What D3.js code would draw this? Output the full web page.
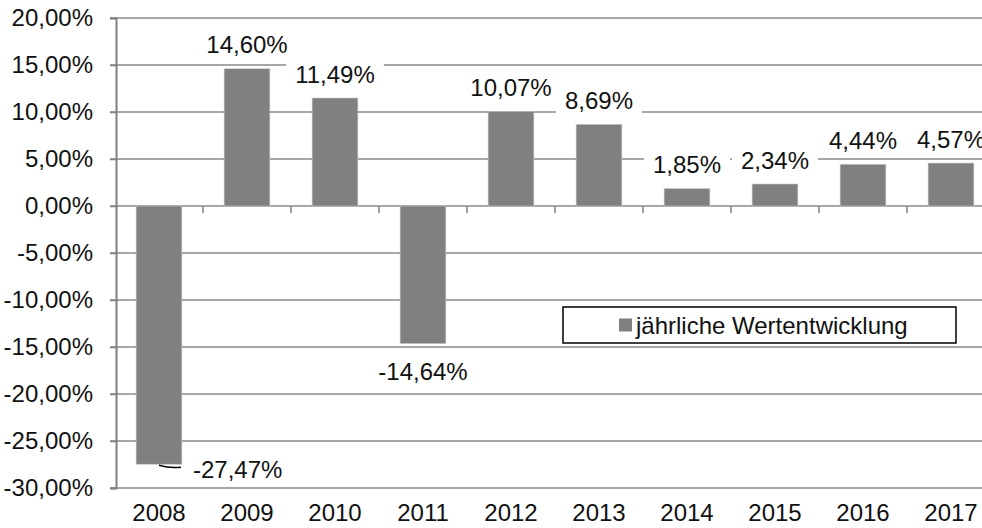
<!DOCTYPE html>
<html>
<head>
    <script src="https://d3js.org/d3.v7.min.js"></script>
    <style>
        body { margin: 0; background: #fff; }
        text { font-family: "Liberation Sans", Arial, sans-serif; }
    </style>
</head>
<body>
    <div id="chart"></div>
    <script>
        // data
        const years = ["2008", "2009", "2010", "2011", "2012", "2013", "2014", "2015", "2016", "2017"];
        const values = [-27.47, 14.60, 11.49, -14.64, 10.07, 8.69, 1.85, 2.34, 4.44, 4.57];
        const yTicks = [-30, -25, -20, -15, -10, -5, 0, 5, 10, 15, 20];
        const seriesName = "jährliche Wertentwicklung";
        const title = "Jährliche Wertentwicklung in (%)";

        const W = 982, H = 528;
        const FS = "24px";
        const fmt = v => v.toFixed(2).replace(".", ",") + "%";

        const svg = d3.select("#chart").append("svg")
            .attr("width", W).attr("height", H);

        const x = d3.scaleBand()
            .domain(years)
            .range([115, 995])
            .paddingInner(0.48)
            .paddingOuter(0.24);

        const y = d3.scaleLinear().domain([-30, 20]).range([488, 18]);

        // title (cut off at the top, as in the original)
        svg.append("text")
            .attr("x", 742).attr("y", -5)
            .attr("text-anchor", "end")
            .style("font-weight", "bold")
            .style("font-size", "24px")
            .text(title);

        // gridlines
        svg.append("g").selectAll("line")
            .data(yTicks)
            .join("line")
            .attr("x1", 110).attr("x2", 995)
            .attr("y1", d => y(d)).attr("y2", d => y(d))
            .attr("stroke", "#8a8a8a")
            .attr("stroke-width", 1.5);

        // y axis
        const yAxis = svg.append("g")
            .attr("transform", "translate(116,0)")
            .call(d3.axisLeft(y).tickValues(yTicks).tickFormat(fmt).tickSize(6).tickPadding(17));
        yAxis.select(".domain").attr("stroke", "#808080").attr("stroke-width", 2);
        yAxis.selectAll(".tick line").attr("stroke", "#808080").attr("stroke-width", 1.5);
        yAxis.selectAll("text")
            .style("font-size", FS)
            .style("font-family", "'Liberation Sans', Arial, sans-serif")
            .attr("fill", "#111");

        // category ticks along the zero line
        const bounds = years.map(d => x(d) - x.step() * x.paddingOuter());
        bounds.push(bounds[bounds.length - 1] + x.step());
        svg.append("g").selectAll("line")
            .data(bounds.slice(1))
            .join("line")
            .attr("x1", d => d).attr("x2", d => d)
            .attr("y1", y(0)).attr("y2", y(0) + 7)
            .attr("stroke", "#808080")
            .attr("stroke-width", 1.5);

        // bars
        svg.append("g").selectAll("rect")
            .data(values)
            .join("rect")
            .attr("x", (d, i) => x(years[i]))
            .attr("width", x.bandwidth())
            .attr("y", d => y(Math.max(0, d)))
            .attr("height", d => Math.abs(y(d) - y(0)))
            .attr("fill", "#808080")
            .attr("stroke", "#c8c8c8")
            .attr("stroke-width", 0.6);

        // x labels
        svg.append("g").selectAll("text")
            .data(years)
            .join("text")
            .attr("x", d => x(d) + x.bandwidth() / 2)
            .attr("y", 521)
            .attr("text-anchor", "middle")
            .style("font-size", FS)
            .attr("fill", "#111")
            .text(d => d);

        // data labels with white boxes
        const labels = svg.append("g");
        values.forEach((v, i) => {
            const cx = x(years[i]) + x.bandwidth() / 2;
            let lx = cx, ly, anchor = "middle";
            if (v >= 0) ly = y(v) - 24;
            else if (i === 0) { lx = 193; ly = y(v) + 5; anchor = "start"; }
            else ly = y(v) + 28;

            const g = labels.append("g");
            const t = g.append("text")
                .attr("x", lx).attr("y", ly)
                .attr("dy", "0.36em")
                .attr("text-anchor", anchor)
                .style("font-size", FS)
                .attr("fill", "#111")
                .text(fmt(v));
            const bb = t.node().getBBox();
            g.insert("rect", "text")
                .attr("x", bb.x - 9).attr("y", bb.y - 1)
                .attr("width", bb.width + 18).attr("height", bb.height + 3)
                .attr("fill", "#fff");

            // leader line for the 2008 label
            if (i === 0) {
                g.append("path")
                    .attr("d", `M${cx},${y(v) + 1} Q${cx + 10},${y(v) + 4} ${cx + 22},${y(v) + 3}`)
                    .attr("fill", "none")
                    .attr("stroke", "#000")
                    .attr("stroke-width", 1.5);
            }
        });

        // legend
        const legend = svg.append("g");
        legend.append("rect")
            .attr("x", 563).attr("y", 307)
            .attr("width", 393).attr("height", 36)
            .attr("fill", "#fff")
            .attr("stroke", "#000")
            .attr("stroke-width", 1.5);
        legend.append("rect")
            .attr("x", 619).attr("y", 318.5)
            .attr("width", 13).attr("height", 13)
            .attr("fill", "#808080");
        legend.append("text")
            .attr("x", 636).attr("y", 325)
            .attr("dy", "0.36em")
            .style("font-size", FS)
            .attr("fill", "#111")
            .text(seriesName);
    </script>
</body>
</html>
